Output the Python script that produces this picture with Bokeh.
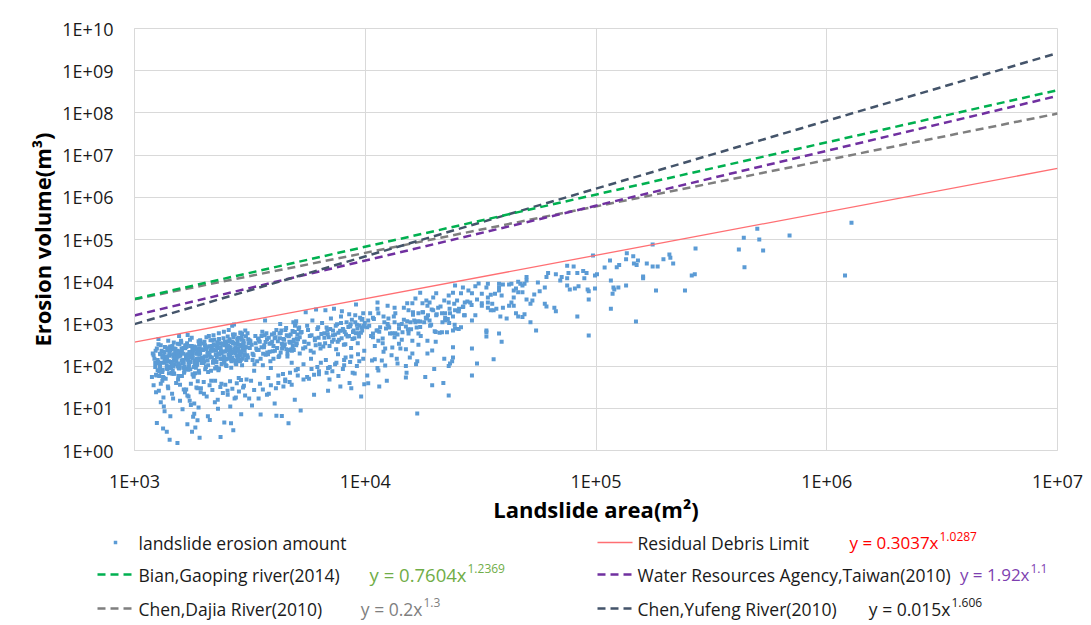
from bokeh.plotting import figure
from bokeh.models import FixedTicker, CustomJSTickFormatter, Range1d, ColumnDataSource
from bokeh.layouts import column
from bokeh.embed import file_html
from bokeh.resources import INLINE
from bokeh.core.properties import value

FONT = "Open Sans"

# ---------------- axis ticks ----------------
x_ticks = [1e3, 1e4, 1e5, 1e6, 1e7]
x_tick_labels = ["1E+03", "1E+04", "1E+05", "1E+06", "1E+07"]
y_ticks = [1e0, 1e1, 1e2, 1e3, 1e4, 1e5, 1e6, 1e7, 1e8, 1e9, 1e10]
y_tick_labels = ["1E+00", "1E+01", "1E+02", "1E+03", "1E+04", "1E+05",
                 "1E+06", "1E+07", "1E+08", "1E+09", "1E+10"]

# ---------------- landslide erosion amount (scatter) ----------------
area_1 = [1210,1230,1250,1260,1280,1300,1310,1330,1350,1360,
          1380,1400,1410,1430,1450,1470,1490,1220,1240,1270,
          1290,1320,1340,1370,1390,1420,1440,1460,1480,1200,
          1250,1300,1350,1400,1450,1280,1330,1380,1430,1480,
          1260,1310,1360,1410,1460,1230,1290,1340,1390,1440,
          1490,1270,1320,1370,1420,1470,1240,1300,1350,1400,
          1190,1250,1340,1380,1430,1470,1210,1330,1420,1480]
vol_1 = [180,95,260,140,75,310,120,55,210,160,
         88,400,130,240,70,190,110,150,62,330,
         100,45,220,170,85,280,125,66,360,200,
         115,38,145,92,250,58,175,105,290,135,
         80,230,155,68,300,118,195,52,265,90,
         140,440,72,165,235,98,24,14,8.5,30,
         55,4.5,11,2.8,6.5,17,35,3.3,1.8,67]

area_2 = [1500,1520,1540,1560,1580,1600,1620,1640,1660,1680,
          1700,1720,1740,1760,1780,1800,1820,1840,1860,1880,
          1900,1920,1510,1530,1550,1570,1590,1610,1630,1650,
          1670,1690,1710,1730,1750,1770,1790,1810,1830,1850,
          1870,1890,1910,1930,1505,1545,1585,1625,1665,1705,
          1745,1785,1825,1865,1905,1525,1565,1605,1645,1685,
          1725,1765,1805,1845,1885,1925,1515,1555,1595,1635,
          1675,1715,1755,1795,1835,1875,1915,1535,1575,1615,
          1655,1695,1735,1775,1815,1855,1895,1560,1700,1880]
vol_2 = [210,130,340,88,175,260,115,70,305,150,
         190,95,420,160,240,62,135,280,105,200,
         78,320,145,230,58,185,400,120,270,98,
         165,350,82,215,125,470,155,290,68,195,
         110,250,138,380,172,48,225,92,310,142,
         84,198,265,118,330,160,100,235,75,290,
         128,180,56,245,150,410,205,90,360,122,
         28,19,12,6.3,3.5,5.2,2.0,1.5,36,9.5,
         24,4.2,15,2.8,7.4,31,10.5,520,545,44]

area_3 = [1950,1980,2010,2040,2070,2100,2130,2160,2190,2220,
          2250,2280,2310,2340,2370,2400,2430,2460,2490,2520,
          2550,2580,2610,2640,2670,2700,2730,2760,2790,2820,
          2850,2880,2910,2940,2970,3000,3040,3080,3120,3160,
          1965,2025,2085,2145,2205,2265,2325,2385,2445,2505,
          2565,2625,2685,2745,2805,2865,2925,2985,3050,3110,
          1995,2055,2115,2175,2235,2295,2355,2415,2475,2535,
          2595,2655,2715,2775,2835,2895,2955,3015,3090,3180,
          1940,2000,2080,2150,2230,2300,2380,2450,2530,2600,
          2680,2750,2830,2900,2980,3060,3140,2120,2360,2620,
          2050,2200,2320,2440,2560,2720,2880,3020,2650,2700]
vol_3 = [250,140,380,95,210,520,165,300,120,420,
         185,270,80,350,225,145,460,310,105,240,
         390,170,280,130,560,215,340,110,450,260,
         195,620,300,150,400,230,510,180,350,270,
         160,290,72,235,330,125,440,200,155,360,
         285,135,480,205,320,175,580,245,140,430,
         118,265,190,410,88,300,150,345,225,500,
         170,380,250,135,470,215,330,280,600,390,
         30,22,6.5,45,14,9.8,38,4.6,26,11,
         3.0,18,52,7.2,34,48,17,5.3,2.1,4.4,
         480,540,600,650,720,560,620,700,910,970]

area_4 = [3220,3280,3340,3400,3460,3520,3580,3640,3700,3760,
          3820,3880,3940,4000,4060,4120,4180,4240,4300,4360,
          4420,4480,4540,4600,4660,4720,4780,4840,4900,4960,
          5020,5080,5140,5200,3250,3370,3490,3610,3730,3850,
          3970,4090,4210,4330,4450,4570,4690,4810,4930,5050,
          5170,3310,3430,3550,3670,3790,3910,4030,4150,4270,
          4390,4510,4630,4750,4870,4990,5110,3300,3600,3900,
          4200,4500,4800,5100,3450,3750,4050,4350,4650,4950,
          3230,3520,3820,4120,4420,4720,5020,3680,4280,4880]
vol_4 = [320,180,520,240,410,150,650,280,370,210,
         470,130,560,300,230,720,390,175,610,260,
         440,330,800,200,520,360,250,680,420,900,
         310,560,760,480,140,260,380,195,600,340,
         225,480,165,700,290,540,380,230,640,350,
         820,110,450,280,540,190,350,600,270,460,
         300,720,240,560,380,1050,430,78,105,90,
         60,48,120,85,17,21,13,6.6,4.4,16,
         11.7,7.1,22,6.7,33,70,1150,1200,1000,1100]

area_5 = [5300,5450,5600,5750,5900,6050,6200,6350,6500,6650,
          6800,6950,7100,7250,7400,7550,7700,7850,8000,8150,
          8300,8450,8600,8750,8900,9050,9200,9350,9500,9650,
          9800,9950,5380,5680,5980,6280,6580,6880,7180,7480,
          7780,8080,8380,8680,8980,9280,9580,9880,5520,6120,
          6720,7320,7920,8520,9120,9720,5820,6420,7020,7620,
          8220,8820,9420,5250,6000,6900,7800,8700,9600,7000,
          5400,5850,6300,6750,7200,7650,8100,8550,9000,9900]
vol_5 = [640,380,900,520,1200,450,760,330,1050,600,
         820,480,1350,700,560,980,420,1500,760,640,
         1100,520,880,1250,700,1600,950,600,1400,820,
         1800,1050,260,340,210,470,290,560,380,250,
         690,320,500,270,460,350,620,900,1900,2200,
         2100,2300,2000,1700,2900,1300,150,120,95,190,
         160,70,130,8.9,21,26,33,30,19,48,
         110,85,64,140,75,58,105,40,67,37]

area_6 = [24500,26500,30000,31000,28000,29000,26000,24000,23000,22000,
          23000,25000,27000,28500,30500,32000,20300,19700,19000,18400,
          17700,18600,17300,16500,16000,15200,14700,15400,16100,17000,
          17800,18700,19700,20700,21500,22200,23300,24500,25500,27000,
          29000,30000,26000,24500,24000,22600,21500,20000,19000,18000,
          17300,16500,15700,15000,14000,13400,12600,12000,11400,10800,
          10500,10300,10200,11600,12300,12800,13400,14500,15400,17000,
          18600,16000,14000,13100,12200,11400,10800,15000,16000,19500,
          29000,24000,23000,10700,11000,11800,12200,13800,15000,16800,
          11400,10300,11500,15000,19500,29000,23000,16800,11300,12500,
          11300,13400,13500,30500,23300,33500]
vol_6 = [8100,7300,7800,9100,6200,5300,5300,5500,4700,3600,
         3200,3600,3200,3200,3800,3100,5300,4200,3200,3600,
         3100,2700,5500,4000,3100,3100,2400,2100,1900,1800,
         1900,1600,2100,2400,1800,1400,1800,2100,2300,1600,
         1200,1600,830,780,700,630,630,670,1200,1100,
         1140,1100,1100,870,780,1100,1350,1500,1800,1400,
         1800,1200,830,830,780,590,480,630,590,590,
         400,400,340,275,260,400,590,250,200,234,
         260,160,100,136,145,136,103,115,100,130,
         79,39,33,54,35,60,20,7.5,3200,2700,
         2300,2400,1800,115,115,630]

area_7 = [97000,75000,80000,67000,76000,83000,88000,91000,89000,99000,
          62000,61000,71000,75000,70000,75000,84000,77000,81000,92000,
          93000,99000,93000,83000,93000,60000,57000,56000,50000,50000,
          49000,46000,47000,48000,45000,46000,48000,43000,42000,39500,
          38000,38000,38000,39000,36500,35000,34000,33500,44000,44000,
          43000,42000,44000,34000,34000,35500,34000,35000,36000,37000,
          39500,38500,41000,45000,46000,48000,49000,52000,50000,52000,
          53000,54000,60000,61000,66000,67000,55000,33500,33500,38000,
          39000,36000,32000,32000]
vol_7 = [42000,24000,23000,15000,16000,16000,18000,16000,12000,14000,
         16000,13000,13000,12000,10700,8100,7800,6500,6900,6500,
         5900,6900,3800,1500,530,7300,5900,9600,13000,10700,
         9000,10000,9000,8100,6900,5600,5600,9000,8600,8600,
         9000,7300,6200,4700,5200,4900,9000,7300,6200,4200,
         3200,2700,2700,4200,3200,3000,2400,2100,2100,2300,
         2400,1500,1350,1800,1500,1450,1700,1100,3800,3000,
         3600,5000,3000,2600,2400,2000,700,700,500,590,
         380,145,5200,2700]

area_8 = [101000,109000,115000,123000,126000,136000,135000,145000,146000,150000,
          152000,176000,166000,176000,185000,196000,208000,210000,216000,160000,
          160000,182000,243000,260000,268000,270000,116000,119000,120000,125000,
          135000,118000,116000,149000,416000,437000,500000,510000,530000,440000,
          690000,1280000,1200000]
vol_8 = [15000,21700,32000,22000,25000,47000,34000,40000,27000,25000,
         32000,76000,27000,23000,23000,34000,44000,37000,27000,13300,
         12000,6200,6200,14000,15000,61000,10700,7300,6500,7300,
         8100,5200,2300,1140,58000,110000,180000,100000,55000,22000,
         124000,250000,14000]

area_9 = [1235,1265,1295,1325,1355,1385,1415,1445,1475,1505,
          1535,1565,1595,1625,1655,1685,1715,1745,1775,1805,
          1835,1865,1895,1925,1955,1985,2015,2045,2075,2105,
          2135,2165,2195,2225,2255,2285,2315,2345,2375,2405,
          2435,2465,2495,2525,2555,2585,2615,2645,2675,2705,
          2735,2765,2795,2825,2855,2885,2915,2945,2975,3005,
          1245,1305,1365,1425,1485,1545,1605,1665,1725,1785,
          1845,1905,1965,2025,2085,2145,2205,2265,2325,2385,
          2445,2505,2565,2625,2685,2745,2805,2865,2925,2985,
          1275,1335,1395,1455,1515,1575,1635,1695,1755,1815,
          1875,1935,1995,2055,2115,2175,2235,2295,2355,2415,
          2475,2535,2595,2655,2715,2775,2835,2895,2955,3015]
vol_9 = [230,125,190,82,285,148,205,112,170,255,
         98,330,215,140,265,180,122,300,165,235,
         275,150,390,205,118,345,170,255,135,290,
         410,160,240,305,128,365,198,270,152,325,
         220,380,145,290,185,430,240,160,355,210,
         280,175,395,230,320,140,465,260,345,190,
         60,72,50,95,66,115,58,85,108,64,
         92,70,120,84,105,78,135,96,88,112,
         125,100,150,92,140,115,165,130,105,175,
         26,18,33,22,40,15,28,20,38,13,
         30,24,42,19,35,27,45,16,32,23,
         36,21,44,29,17,39,25,47,31,20]

area_10 = [3050,3150,3250,3350,3450,3550,3650,3750,3850,3950,
           4050,4150,4250,4350,4450,4550,4650,4750,4850,4950,
           5050,5250,5450,5650,5850,6050,6250,6450,6650,6850,
           7050,7250,7450,7650,7850,8050,8250,8450,8650,8850,
           9050,9250,9450,9650,9850,3100,3400,3700,4000,4300,
           4600,4900,5200,5500,5800,6100,6400,6700,7000,7300,
           7600,7900,8200,8500,8800,9100,9400,9700,3200,3500,
           3800,4100,4400,4700,5000,5600,6200,6800,7400,8000,
           8600,9200,9800,3300,3900,4500,5100,5700,6300,6900,
           7500,8100,8700,9300,9900,3600,4200,4800,5400,6000]
vol_10 = [280,410,195,350,240,520,310,430,220,380,
          460,270,590,340,420,250,510,360,300,640,
          450,620,380,720,540,410,830,580,470,690,
          760,540,900,620,1050,700,560,850,980,640,
          1100,780,920,1250,860,160,130,185,150,210,
          170,240,200,280,230,310,260,350,300,420,
          380,460,330,520,440,600,500,700,45,38,
          52,30,65,42,80,55,95,70,110,85,
          125,100,150,27,35,44,60,50,75,90,
          120,140,170,190,230,28,40,36,48,62]

area_11 = [10400,10900,11500,12100,12700,13300,14000,14700,15400,16100,
           16900,17700,18500,19400,20300,21200,22200,23200,24300,25400,
           26500,27700,28900,10600,11200,11900,12600,13500,14400,15300,
           16300,17300,18300,19300,20400,21600,22800,24000,25300,26600,
           11000,12000,13000,14200,15600,17000,18600,20200,22000,24000,
           10200,11300,12400,13700,15100,16600,18200,19900,21800,23800]
vol_11 = [900,1300,650,1100,820,1500,950,1250,700,1650,
          1150,1900,1400,2200,1600,2600,1800,2300,3000,2000,
          2500,3400,2800,520,700,450,880,600,1000,750,
          1200,850,1400,950,1700,1100,1300,1500,2000,2600,
          300,220,180,260,160,320,200,380,150,280,
          60,90,45,150,70,110,55,85,40,130]

area_12 = [1320,1390,1460,1530,1600,1670,1740,1810,1880,1950,
           2020,2090,2160,2230,2300,2370,2440,2510,2580,2650,
           1350,1420,1490,1560,1630,1700,1770,1840,1910,1980,
           2050,2120,2190,2260,2330,2400,2470,2540,2610,2680,
           1285,1375,1465,1555,1645,1735,1825,1915,2005,2095,
           2185,2275,2365,2455,2545,2635,2725,2815,2905,2995,
           10800,11900,13100,14400,15800,17400,19100,21000,23100,25400,
           11300,12500,13800,15200,16700,18400,20200,22200,24400,26800]
vol_12 = [160,240,110,205,135,280,175,95,225,150,
          310,185,250,140,345,215,170,280,200,365,
          120,175,260,105,195,145,300,125,185,240,
          170,290,125,230,190,330,150,260,380,220,
          85,130,78,170,90,210,115,260,130,190,
          230,165,270,120,300,205,250,160,420,280,
          480,350,600,420,750,520,900,620,1050,760,
          700,1000,560,1150,820,1350,640,1200,950,1600]

# ---------------- reference curves (end points as drawn) ----------------
line_x = [1e3, 1e7]
residual_y = [370, 4.82e6]        # Residual Debris Limit
bian_y = [3906, 3.46e8]           # Bian, Gaoping river (2014)
wra_y = [1589, 2.52e8]            # Water Resources Agency (purple as drawn)
dajia_y = [3831, 9.64e7]          # Chen, Dajia River (grey as drawn)
yufeng_y = [986, 2.62e9]          # Chen, Yufeng River

legend_labels = ["landslide erosion amount", "Residual Debris Limit",
                 "Bian,Gaoping river(2014)", "Water Resources Agency,Taiwan(2010)",
                 "Chen,Dajia River(2010)", "Chen,Yufeng River(2010)"]
eq_base = ["y = 0.3037x", "y = 0.7604x", "y = 1.92x", "y = 0.2x", "y = 0.015x"]
eq_exp = ["1.0287", "1.2369", "1.1", "1.3", "1.606"]

# ---------------- colours ----------------
C_PTS = "#5b9bd5"
C_RED = "#ff6f73"
C_GREEN = "#00b050"
C_PURPLE = "#7030a0"
C_GREY = "#7f7f7f"
C_NAVY = "#44546a"
C_GRID = "#d9d9d9"

area = (area_1 + area_2 + area_3 + area_4 + area_5 + area_6 + area_7 + area_8
        + area_9 + area_10 + area_11 + area_12)
vol = (vol_1 + vol_2 + vol_3 + vol_4 + vol_5 + vol_6 + vol_7 + vol_8
       + vol_9 + vol_10 + vol_11 + vol_12)
src = ColumnDataSource(dict(area=area, vol=vol))

MAIN_BOTTOM = 76
p = figure(frame_width=923, frame_height=422,
           min_border_left=134, min_border_right=26, min_border_top=28,
           min_border_bottom=MAIN_BOTTOM,
           x_axis_type="log", y_axis_type="log",
           x_range=Range1d(1e3, 1e7), y_range=Range1d(1, 1e10),
           toolbar_location=None, output_backend="svg")
p.background_fill_color = "white"
p.border_fill_color = "white"
p.outline_line_color = C_GRID

fmt_code = """
let best = 0, bd = Infinity;
for (let i = 0; i < tvals.length; i++) {
  const d = Math.abs(Math.log10(tvals[i]) - Math.log10(tick));
  if (d < bd) { bd = d; best = i; }
}
return tlabels[best];
"""
p.xaxis.ticker = FixedTicker(ticks=x_ticks, minor_ticks=[])
p.yaxis.ticker = FixedTicker(ticks=y_ticks, minor_ticks=[])
p.xaxis.formatter = CustomJSTickFormatter(args=dict(tvals=x_ticks, tlabels=x_tick_labels), code=fmt_code)
p.yaxis.formatter = CustomJSTickFormatter(args=dict(tvals=y_ticks, tlabels=y_tick_labels), code=fmt_code)

for ax in (p.xaxis[0], p.yaxis[0]):
    ax.axis_line_color = C_GRID
    ax.major_tick_line_color = None
    ax.minor_tick_line_color = None
    ax.major_tick_out = 0
    ax.major_tick_in = 0
    ax.major_label_text_font = FONT
    ax.major_label_text_font_size = "18px"
    ax.major_label_text_color = "#1a1a1a"
    ax.axis_label_text_font = FONT
    ax.axis_label_text_font_size = "22px"
    ax.axis_label_text_font_style = "bold"
    ax.axis_label_text_color = "#000000"

p.xaxis.major_label_standoff = 18
p.xaxis.axis_label_standoff = -2
p.yaxis.major_label_standoff = 21
p.yaxis.axis_label_standoff = 2

p.xaxis.axis_label = "Landslide area(m²)"
p.yaxis.axis_label = "Erosion volume(m³)"
p.yaxis.major_label_orientation = "horizontal"
p.grid.grid_line_color = C_GRID
p.grid.grid_line_width = 1

p.scatter("area", "vol", source=src, marker="square", size=4,
          fill_color=C_PTS, line_color=None)

p.line(line_x, residual_y, line_color=C_RED, line_width=1.3)
p.line(line_x, dajia_y, line_color=C_GREY, line_width=2.5, line_dash="8 5")
p.line(line_x, wra_y, line_color=C_PURPLE, line_width=2.5, line_dash="8 5")
p.line(line_x, yufeng_y, line_color=C_NAVY, line_width=2.5, line_dash="8 5")
p.line(line_x, bian_y, line_color=C_GREEN, line_width=2.5, line_dash="8 5")

# ---------------- legend panel ----------------
MAIN_H = 28 + 422 + MAIN_BOTTOM
LW, LH = 1083, 624 - MAIN_H
lg = figure(width=LW, height=LH, x_range=Range1d(0, LW), y_range=Range1d(LH, 0),
            min_border=0, toolbar_location=None, output_backend="svg")
lg.axis.visible = False
lg.grid.visible = False
lg.outline_line_color = None
lg.border_fill_color = "white"
lg.background_fill_color = "white"
for fig in (p, lg):
    if "frame_align" in fig.properties():
        fig.frame_align = False

row_y = [542 - MAIN_H, 574 - MAIN_H, 608 - MAIN_H]
col_sample = [97, 597]
col_text = [138, 637]

lg.scatter([115], [row_y[0]], marker="square", size=3.5, fill_color=C_PTS, line_color=None)
lg.segment(x0=[col_sample[1]], y0=[row_y[0]], x1=[col_sample[1] + 35], y1=[row_y[0]],
           line_color=C_RED, line_width=1.3)
dash_cols = [C_GREEN, C_PURPLE, C_GREY, C_NAVY]
dash_pos = [(0, 1), (1, 1), (0, 2), (1, 2)]
for c, (ci, ri) in zip(dash_cols, dash_pos):
    lg.segment(x0=[col_sample[ci]], y0=[row_y[ri]], x1=[col_sample[ci] + 36], y1=[row_y[ri]],
               line_color=c, line_width=2.5, line_dash="8 5")

label_pos = [(0, 0), (1, 0), (0, 1), (1, 1), (0, 2), (1, 2)]
lg.text(x=[col_text[c] for c, r in label_pos], y=[row_y[r] for c, r in label_pos],
        text=legend_labels, text_font=value(FONT), text_font_size="17.5px",
        text_baseline="middle", text_align="left", text_color="#1a1a1a")

eq_exp_x = [938, 466, 1029, 422, 950]
eq_rows = [0, 1, 1, 2, 2]
eq_colors = ["#ff0000", "#70ad47", "#7e3fb0", "#7f7f7f", "#1a1a1a"]
eq_sizes = ["17px", "18.5px", "17px", "17.5px", "17.5px"]
lg.text(x=eq_exp_x, y=[row_y[r] for r in eq_rows], text=eq_base,
        text_font=value(FONT), text_font_size=eq_sizes, text_baseline="middle",
        text_align="right", text_color=eq_colors)
lg.text(x=[x + 1 for x in eq_exp_x], y=[row_y[r] - 6 for r in eq_rows], text=eq_exp,
        text_font=value(FONT), text_font_size="12px", text_baseline="middle",
        text_align="left", text_color=eq_colors)

layout = column(p, lg, spacing=0)
open("out.html", "w").write(file_html(layout, INLINE))
